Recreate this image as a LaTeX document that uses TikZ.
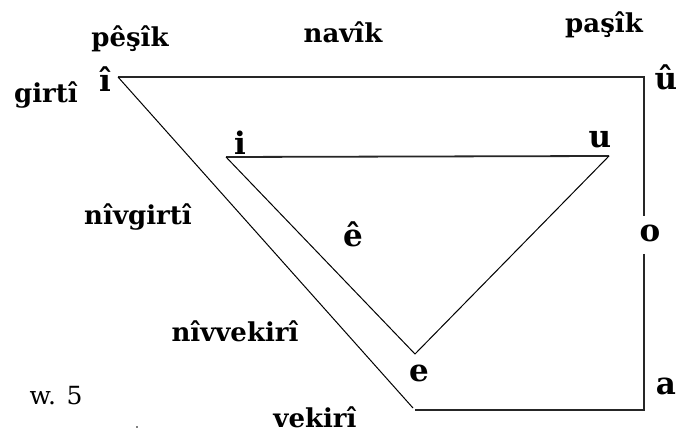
\documentclass[tikz,border=0pt]{standalone}
\usepackage{fontspec}
\setmainfont{DejaVu Serif}
\begin{document}
\begin{tikzpicture}[x=1pt,y=-1pt,
  lbl/.style={font=\fontsize{26}{26}\selectfont\bfseries, anchor=base, inner sep=0pt},
  vow/.style={font=\fontsize{31}{31}\selectfont\bfseries, anchor=base, inner sep=0pt},
  reg/.style={font=\fontsize{25}{25}\selectfont, anchor=base, inner sep=0pt},
  thick line/.style={line width=1.8pt, draw=black!85},
  thin line/.style={line width=1pt, draw=black}]
\useasboundingbox (0,0) rectangle (683,435);
% outer figure
\coordinate (A) at (118,77);
\coordinate (B) at (644,77);
\coordinate (O1) at (644,216);
\coordinate (O2) at (644,254);
\coordinate (C) at (644,410);
\coordinate (D) at (415,410);
\coordinate (D2) at (413,408);
% inner triangle
\coordinate (I) at (226,157);
\coordinate (U) at (609,156);
\coordinate (E) at (415,354);
\draw[thick line] (A) -- (B) -- (O1);
\draw[thick line] (O2) -- (C) -- (D);
\draw[thin line] (D2) -- (A);
\draw[thick line] (I) -- (U);
\draw[thin line] (U) -- (E) -- (I);
% labels
\node[lbl] (pesik) at (130,47) {pêşîk};
\node[lbl] (navik) at (343,43) {navîk};
\node[lbl] (pasik) at (604,33) {paşîk};
\node[lbl] (girti) at (46,103) {girtî};
\node[lbl] (nivgirti) at (138,225) {nîvgirtî};
\node[lbl] (nivvekiri) at (235,342) {nîvvekirî};
\node[lbl] (vekiri) at (315,428) {vekirî};
\node[reg] (w5) at (56,405) {w. 5};
% vowels
\node[vow] (vi) at (105,92) {î};
\node[vow] (vu) at (666,90) {û};
\node[vow] (ii) at (240,155) {i};
\node[vow] (uu) at (600,148) {u};
\node[vow] (ee) at (353,247) {ê};
\node[vow] (oo) at (650,242) {o};
\node[vow] (e) at (419,382) {e};
\node[vow] (a) at (666,395) {a};
\fill (137,427) circle (0.9);
\end{tikzpicture}
\end{document}
